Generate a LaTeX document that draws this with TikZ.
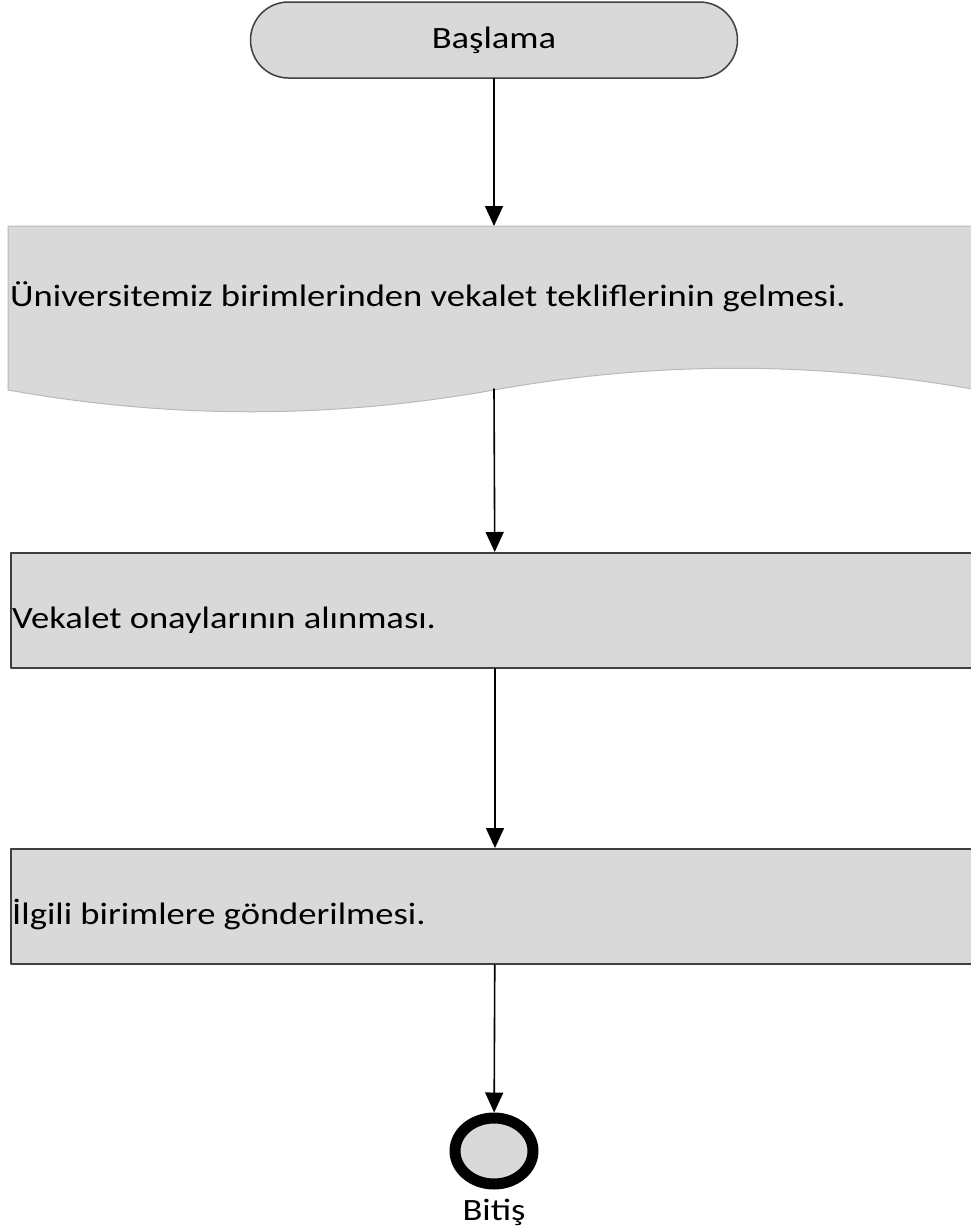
\documentclass[tikz,border=0pt]{standalone}
\usepackage{fontspec}
\setmainfont{Carlito}[FakeStretch=1.18]
\usetikzlibrary{arrows.meta,shapes.geometric}
\definecolor{vulgrijs}{HTML}{D9D9D9}
\definecolor{randgrijs}{HTML}{3F3F3F}

\begin{document}
\begin{tikzpicture}[x=1pt, y=-1pt, line cap=round, line join=round, >={Triangle[width=18pt,length=20pt]},
    terminal/.style={draw=randgrijs, line width=1.5pt, fill=vulgrijs, rounded corners=38pt,
      minimum width=487pt, minimum height=76pt, inner sep=0pt, font=\tekstfont},
    stap/.style={draw=randgrijs, line width=2pt, fill=vulgrijs, anchor=north west,
      minimum width=968pt, minimum height=115pt, inner sep=0pt},
    tekst/.style={anchor=base west, inner sep=0pt, font=\tekstfont},
    eindpunt/.style={draw=black, line width=11pt, fill=vulgrijs, ellipse,
      minimum width=78pt, minimum height=66pt, inner sep=0pt},
    pijl/.style={->, line width=1.6pt, black}]
      % Lettertype en middenlijn
      \def\tekstfont{\fontsize{31}{37}\selectfont}
      \def\xm{494}

      % Kader van de tekening
      \clip (0,0) rectangle (971,1232);

      % Begin
      \node[terminal] (start) at (\xm,40) {Başlama};

      % Document met golvende onderrand
      \filldraw[fill=vulgrijs, draw=gray!55, line width=1pt]
        (8,226) -- (990,226) -- (990,390) -- (978,390)
        .. controls (816,361) and (655,361) .. (\xm,390)
        .. controls (331,419) and (170,419) .. (8,390) -- cycle;
      \coordinate (doctop) at (\xm,226);
      \coordinate (docbot) at (\xm,389);
      \node[tekst] (doctekst) at (10,306) {Üniversitemiz birimlerinden vekalet tekliflerinin gelmesi.};

      % Stappen
      \node[stap] (onay) at (10,552) {};
      \node[tekst] (onaytekst) at (12,628) {Vekalet onaylarının alınması.};
      \node[stap] (gonder) at (10,848) {};
      \node[tekst] (gondertekst) at (12,924) {İlgili birimlere gönderilmesi.};

      % Einde
      \node[eindpunt] (eind) at (\xm,1151) {};
      \node[tekst, anchor=base] (bitis) at (\xm,1220) {Bitiş};

      % Pijlen
      \draw[pijl] (start) -- (doctop);
      \draw[pijl] (docbot) -- (onay);
      \draw[pijl] (onay) -- (gonder);
      \draw[pijl] (gonder) -- (eind);
    \end{tikzpicture}
\end{document}
